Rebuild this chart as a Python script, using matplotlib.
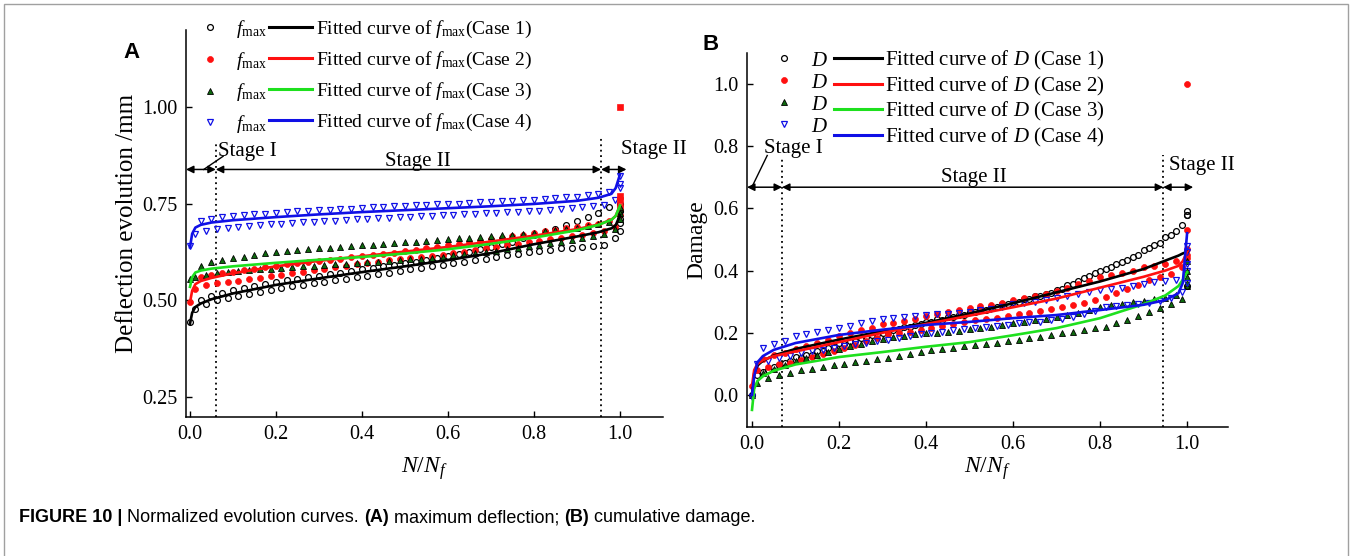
import numpy as np
import matplotlib
matplotlib.use("Agg")
import matplotlib.pyplot as plt
from matplotlib.lines import Line2D
from matplotlib.patches import Rectangle

plt.rcParams['font.family'] = ['Liberation Serif', 'DejaVu Serif']
plt.rcParams['mathtext.fontset'] = 'custom'
plt.rcParams['mathtext.rm'] = 'Liberation Serif'
plt.rcParams['mathtext.it'] = 'Liberation Serif:italic'
plt.rcParams['mathtext.bf'] = 'Liberation Serif:bold'

# ---------------- data ----------------
# measurement grid N/Nf (81 evenly spaced records)
x_pts = np.linspace(0.0, 1.0, 81)
# grid of the fitted curves
x_fit = [0, 0.005, 0.0125, 0.025, 0.05, 0.1, 0.2, 0.3, 0.4, 0.5, 0.6, 0.7, 0.8, 0.9, 0.95, 0.98, 0.99, 1.0]

# Panel A: maximum deflection f_max (mm, normalised)
fA_case1 = [0.445, 0.478, 0.500, 0.490, 0.512, 0.500, 0.520, 0.506, 0.527, 0.512,
            0.533, 0.517, 0.538, 0.522, 0.543, 0.527, 0.548, 0.532, 0.552, 0.536,
            0.556, 0.540, 0.560, 0.544, 0.564, 0.548, 0.568, 0.552, 0.572, 0.556,
            0.576, 0.560, 0.580, 0.564, 0.584, 0.568, 0.588, 0.572, 0.592, 0.576,
            0.596, 0.580, 0.600, 0.584, 0.605, 0.588, 0.610, 0.592, 0.615, 0.596,
            0.620, 0.600, 0.626, 0.604, 0.632, 0.608, 0.638, 0.612, 0.645, 0.616,
            0.652, 0.620, 0.660, 0.624, 0.668, 0.628, 0.676, 0.631, 0.685, 0.634,
            0.694, 0.636, 0.704, 0.638, 0.714, 0.640, 0.726, 0.642, 0.740, 0.660,
            0.700]
fA_case2 = [0.495, 0.530, 0.560, 0.540, 0.566, 0.545, 0.570, 0.548, 0.574, 0.551,
            0.578, 0.555, 0.582, 0.558, 0.586, 0.562, 0.590, 0.566, 0.593, 0.570,
            0.596, 0.574, 0.599, 0.578, 0.602, 0.582, 0.605, 0.586, 0.608, 0.590,
            0.611, 0.593, 0.614, 0.596, 0.617, 0.600, 0.620, 0.603, 0.623, 0.606,
            0.627, 0.609, 0.630, 0.612, 0.634, 0.615, 0.638, 0.618, 0.642, 0.622,
            0.646, 0.626, 0.650, 0.630, 0.654, 0.634, 0.658, 0.638, 0.662, 0.642,
            0.666, 0.646, 0.670, 0.650, 0.674, 0.654, 0.678, 0.658, 0.682, 0.662,
            0.686, 0.666, 0.690, 0.670, 0.694, 0.675, 0.698, 0.680, 0.704, 0.690,
            0.720]
fA_case3 = [0.555, 0.560, 0.590, 0.565, 0.600, 0.570, 0.604, 0.573, 0.610, 0.576,
            0.613, 0.578, 0.618, 0.580, 0.622, 0.582, 0.626, 0.584, 0.628, 0.586,
            0.630, 0.588, 0.632, 0.590, 0.634, 0.592, 0.636, 0.593, 0.638, 0.595,
            0.640, 0.596, 0.642, 0.598, 0.644, 0.600, 0.646, 0.602, 0.648, 0.604,
            0.650, 0.606, 0.652, 0.608, 0.654, 0.610, 0.656, 0.613, 0.658, 0.616,
            0.660, 0.619, 0.662, 0.622, 0.664, 0.625, 0.666, 0.628, 0.668, 0.632,
            0.670, 0.636, 0.672, 0.640, 0.675, 0.644, 0.678, 0.648, 0.681, 0.652,
            0.684, 0.656, 0.688, 0.661, 0.692, 0.666, 0.697, 0.672, 0.703, 0.685,
            0.735]
fA_case4 = [0.640, 0.672, 0.705, 0.678, 0.711, 0.684, 0.714, 0.687, 0.717, 0.690,
            0.720, 0.692, 0.722, 0.694, 0.724, 0.696, 0.726, 0.698, 0.728, 0.700,
            0.730, 0.702, 0.731, 0.703, 0.733, 0.705, 0.734, 0.706, 0.736, 0.708,
            0.737, 0.709, 0.739, 0.710, 0.740, 0.712, 0.741, 0.713, 0.743, 0.715,
            0.744, 0.716, 0.745, 0.717, 0.747, 0.719, 0.748, 0.720, 0.749, 0.721,
            0.750, 0.722, 0.752, 0.724, 0.753, 0.725, 0.754, 0.726, 0.756, 0.728,
            0.757, 0.729, 0.759, 0.731, 0.760, 0.732, 0.762, 0.734, 0.764, 0.736,
            0.766, 0.738, 0.768, 0.740, 0.771, 0.743, 0.775, 0.746, 0.780, 0.760,
            0.800]
# extra records at failure (N/Nf = 1)
fA_end1 = [0.68, 0.71, 0.73, 0.75]
fA_end2 = [0.74, 0.76, 0.77, 1.00]
fA_end3 = [0.71, 0.725, 0.74]
fA_end4 = [0.79, 0.82]

fitA1 = [0.440, 0.468, 0.483, 0.492, 0.503, 0.518, 0.540, 0.557, 0.573, 0.588, 0.604, 0.622, 0.645, 0.665, 0.676, 0.686, 0.694, 0.720]
fitA2 = [0.495, 0.525, 0.542, 0.550, 0.558, 0.570, 0.588, 0.602, 0.614, 0.626, 0.638, 0.652, 0.667, 0.684, 0.696, 0.708, 0.718, 0.745]
fitA3 = [0.535, 0.560, 0.572, 0.577, 0.582, 0.588, 0.597, 0.605, 0.612, 0.621, 0.632, 0.646, 0.662, 0.681, 0.695, 0.708, 0.718, 0.745]
fitA4 = [0.637, 0.672, 0.688, 0.695, 0.701, 0.707, 0.715, 0.722, 0.728, 0.733, 0.738, 0.743, 0.749, 0.757, 0.765, 0.775, 0.790, 0.825]

# Panel B: damage D
dB_case1 = [0.000, 0.065, 0.075, 0.080, 0.090, 0.095, 0.102, 0.108, 0.122, 0.120,
            0.128, 0.130, 0.140, 0.142, 0.150, 0.155, 0.167, 0.165, 0.172, 0.175,
            0.182, 0.185, 0.192, 0.195, 0.200, 0.204, 0.210, 0.212, 0.218, 0.220,
            0.226, 0.229, 0.235, 0.235, 0.243, 0.242, 0.250, 0.250, 0.258, 0.258,
            0.267, 0.266, 0.275, 0.274, 0.283, 0.282, 0.291, 0.291, 0.300, 0.299,
            0.308, 0.308, 0.317, 0.317, 0.326, 0.327, 0.337, 0.342, 0.352, 0.358,
            0.368, 0.375, 0.384, 0.391, 0.400, 0.406, 0.413, 0.420, 0.427, 0.434,
            0.442, 0.450, 0.465, 0.472, 0.482, 0.490, 0.507, 0.515, 0.528, 0.545,
            0.580]
dB_case2 = [0.030, 0.080, 0.115, 0.090, 0.128, 0.098, 0.136, 0.104, 0.148, 0.112,
            0.158, 0.122, 0.168, 0.131, 0.178, 0.140, 0.190, 0.150, 0.199, 0.161,
            0.208, 0.172, 0.216, 0.183, 0.228, 0.195, 0.232, 0.198, 0.238, 0.203,
            0.244, 0.208, 0.255, 0.215, 0.260, 0.221, 0.266, 0.227, 0.272, 0.233,
            0.280, 0.240, 0.285, 0.244, 0.290, 0.249, 0.296, 0.254, 0.305, 0.260,
            0.311, 0.265, 0.318, 0.270, 0.325, 0.276, 0.335, 0.283, 0.345, 0.290,
            0.356, 0.297, 0.367, 0.305, 0.380, 0.315, 0.386, 0.328, 0.392, 0.341,
            0.398, 0.354, 0.410, 0.370, 0.414, 0.380, 0.420, 0.390, 0.430, 0.410,
            0.450]
dB_case3 = [0.000, 0.040, 0.070, 0.055, 0.085, 0.065, 0.095, 0.072, 0.108, 0.080,
            0.118, 0.085, 0.128, 0.090, 0.138, 0.095, 0.148, 0.100, 0.156, 0.105,
            0.164, 0.110, 0.172, 0.115, 0.180, 0.120, 0.186, 0.126, 0.191, 0.132,
            0.195, 0.138, 0.198, 0.144, 0.200, 0.148, 0.203, 0.152, 0.207, 0.156,
            0.211, 0.160, 0.215, 0.164, 0.219, 0.168, 0.224, 0.172, 0.230, 0.177,
            0.235, 0.182, 0.240, 0.187, 0.245, 0.193, 0.250, 0.199, 0.257, 0.204,
            0.265, 0.209, 0.274, 0.214, 0.284, 0.220, 0.290, 0.230, 0.294, 0.242,
            0.298, 0.255, 0.303, 0.268, 0.308, 0.280, 0.313, 0.292, 0.320, 0.310,
            0.350]
dB_case4 = [-0.005, 0.100, 0.150, 0.110, 0.165, 0.120, 0.175, 0.126, 0.190, 0.134,
            0.196, 0.140, 0.202, 0.146, 0.208, 0.152, 0.216, 0.158, 0.223, 0.163,
            0.230, 0.168, 0.237, 0.172, 0.245, 0.177, 0.248, 0.183, 0.251, 0.189,
            0.254, 0.195, 0.257, 0.200, 0.259, 0.204, 0.261, 0.208, 0.263, 0.212,
            0.267, 0.215, 0.272, 0.218, 0.277, 0.221, 0.283, 0.224, 0.292, 0.230,
            0.296, 0.233, 0.300, 0.236, 0.305, 0.240, 0.313, 0.245, 0.318, 0.252,
            0.324, 0.260, 0.330, 0.270, 0.336, 0.282, 0.340, 0.285, 0.345, 0.288,
            0.350, 0.291, 0.358, 0.295, 0.362, 0.302, 0.366, 0.312, 0.370, 0.330,
            0.400]
dB_end1 = [0.35, 0.58, 0.59]
dB_end2 = [0.44, 0.47, 0.53, 1.00]
dB_end3 = [0.36, 0.38, 0.40, 0.43]
dB_end4 = [0.36, 0.42, 0.46, 0.48]

fitB1 = [0.000, 0.070, 0.095, 0.110, 0.127, 0.148, 0.178, 0.205, 0.232, 0.262, 0.295, 0.330, 0.365, 0.405, 0.432, 0.448, 0.455, 0.460]
fitB2 = [0.030, 0.080, 0.100, 0.112, 0.125, 0.140, 0.170, 0.200, 0.228, 0.255, 0.282, 0.310, 0.345, 0.380, 0.400, 0.415, 0.430, 0.460]
fitB3 = [-0.048, 0.020, 0.045, 0.060, 0.078, 0.098, 0.122, 0.138, 0.155, 0.170, 0.192, 0.215, 0.247, 0.292, 0.320, 0.350, 0.370, 0.395]
fitB4 = [0.000, 0.060, 0.105, 0.125, 0.145, 0.167, 0.193, 0.210, 0.225, 0.235, 0.247, 0.257, 0.273, 0.290, 0.305, 0.327, 0.360, 0.520]

# stage boundaries (N/Nf)
stageA_bounds = [0.06, 0.956]
stageB_bounds = [0.069, 0.945]
xticks = [0.0, 0.2, 0.4, 0.6, 0.8, 1.0]
xtick_labels = ['0.0', '0.2', '0.4', '0.6', '0.8', '1.0']
yticksA = [0.25, 0.50, 0.75, 1.00]
yticksA_labels = ['0.25', '0.50', '0.75', '1.00']
yticksB = [0.0, 0.2, 0.4, 0.6, 0.8, 1.0]
yticksB_labels = ['0.0', '0.2', '0.4', '0.6', '0.8', '1.0']

# ---------------- style ----------------
C_BLACK, C_RED, C_GREEN, C_BLUE = 'black', '#ff1010', '#1ee01e', '#1010e6'
mk = [
    dict(marker='o', mfc='none', mec='black', ms=4.2, mew=0.9, ls='none'),
    dict(marker='o', mfc=C_RED, mec=C_RED, ms=4.3, mew=0.5, ls='none'),
    dict(marker='^', mfc='#0e6a0e', mec='black', ms=4.6, mew=0.6, ls='none'),
    dict(marker='v', mfc='none', mec=C_BLUE, ms=4.8, mew=0.9, ls='none'),
]
line_cols = [C_BLACK, C_RED, C_GREEN, C_BLUE]

W, H = 1351, 556
fig = plt.figure(figsize=(W / 100, H / 100), dpi=100)

axA = fig.add_axes([186 / W, 1 - 417 / H, (663 - 186) / W, (417 - 30) / H])
axB = fig.add_axes([747 / W, 1 - 427 / H, (1228 - 747) / W, (427 - 53) / H])


def style_axes(ax):
    for s in ['top', 'right']:
        ax.spines[s].set_visible(False)
    for s in ['left', 'bottom']:
        ax.spines[s].set_linewidth(1.1)
    ax.tick_params(direction='in', length=4.5, width=1.0, labelsize=14.5, pad=6)
    ax.set_xticks(xticks)
    ax.set_xticklabels(xtick_labels)


def draw_panel(ax, series, ends, fits, end_markers):
    for vals, m in zip(series, mk):
        ax.plot(x_pts, vals, zorder=3, clip_on=False, **m)
    for vals, m, em in zip(ends, mk, end_markers):
        mm = dict(m)
        if em is not None:
            mm['marker'] = em
        ax.plot([1.0] * len(vals), vals, zorder=3, clip_on=False, **mm)
    for vals, c in zip(fits, line_cols):
        ax.plot(x_fit, vals, color=c, lw=1.9, zorder=4, clip_on=False)


style_axes(axA)
style_axes(axB)

draw_panel(axA, [fA_case1, fA_case2, fA_case3, fA_case4],
           [fA_end1, fA_end2, fA_end3, fA_end4],
           [fitA1, fitA2, fitA3, fitA4], [None, 's', None, None])
draw_panel(axB, [dB_case1, dB_case2, dB_case3, dB_case4],
           [dB_end1, dB_end2, dB_end3, dB_end4],
           [fitB1, fitB2, fitB3, fitB4], [None, None, None, None])

axA.set_xlim(-0.0093, 1.100)
axA.set_ylim(0.199, 1.198)
axA.set_yticks(yticksA)
axA.set_yticklabels(yticksA_labels)
axB.set_xlim(-0.0115, 1.094)
axB.set_ylim(-0.103, 1.0995)
axB.set_yticks(yticksB)
axB.set_yticklabels(yticksB_labels)

# axis labels
axA.set_ylabel('Deflection evolution /mm', fontsize=18)
axA.yaxis.set_label_coords((127 - 186) / 477, 0.5)
axA.yaxis.label.set_va('center')
axB.set_ylabel('Damage', fontsize=17)
axB.yaxis.set_label_coords((697 - 747) / 481, 0.5)
axB.yaxis.label.set_va('center')
axA.set_xlabel('$N/N_f$', fontsize=17)
axA.xaxis.set_label_coords(0.5, (417 - 469) / 387)
axA.xaxis.label.set_va('center')
axB.set_xlabel('$N/N_f$', fontsize=17)
axB.xaxis.set_label_coords(0.5, (427 - 469) / 374)
axB.xaxis.label.set_va('center')


# stage annotations
def arrow(ax, x0, x1, y):
    ax.annotate('', xy=(x1, y), xytext=(x0, y),
                arrowprops=dict(arrowstyle='<|-|>', color='black', lw=1.1,
                                shrinkA=0, shrinkB=0, mutation_scale=11),
                annotation_clip=False)


def stages(ax, xl, bounds, xr, y, dot_tops, lead, t1, t2, t3):
    b0, b1 = bounds
    yb = ax.get_ylim()[0]
    ax.plot([b0, b0], [yb, dot_tops[0]], ls=(0, (1, 2)), color='black', lw=1.3, clip_on=False)
    ax.plot([b1, b1], [yb, dot_tops[1]], ls=(0, (1, 2)), color='black', lw=1.3, clip_on=False)
    arrow(ax, xl, b0, y)
    arrow(ax, b0, b1, y)
    arrow(ax, b1, xr, y)
    ax.plot(lead[0], lead[1], color='black', lw=1.0, clip_on=False)
    ax.text(t1[0], t1[1], 'Stage I', fontsize=15, ha='left', va='center')
    ax.text(t2[0], t2[1], 'Stage II', fontsize=15, ha='center', va='center')
    ax.text(t3[0], t3[1], 'Stage II', fontsize=15, ha='left', va='center', clip_on=False)


stages(axA, -0.0093, stageA_bounds, 1.015, 0.838, (0.91, 0.92),
       ([0.032, 0.077], [0.838, 0.872]), (0.065, 0.884), (0.53, 0.858), (1.002, 0.89))
stages(axB, -0.0115, stageB_bounds, 1.014, 0.668, (0.76, 0.77),
       ([0.002, 0.035], [0.675, 0.77]), (0.028, 0.793), (0.51, 0.70), (0.959, 0.738))


# legends
def proxies(label_sym, label_fit):
    hs, ls = [], []
    for m in mk:
        hs.append(Line2D([], [], **m))
        ls.append(label_sym)
    for i, c in enumerate(line_cols):
        hs.append(Line2D([], [], color=c, lw=2.2))
        ls.append(label_fit.replace('#', str(i + 1)))
    return hs, ls


hA, lA = proxies(r'$f_{\mathrm{max}}$', r'Fitted curve of $f_{\mathrm{max}}$(Case #)')
legA = fig.legend(hA, lA, loc='upper left', bbox_to_anchor=(189 / W, 1 - 18 / H),
                  ncol=2, frameon=False, fontsize=14, handlelength=2.2, handletextpad=0.2,
                  columnspacing=0.15, labelspacing=0.5, borderpad=0, borderaxespad=0)
hB, lB = proxies(r'$D$', r'Fitted curve of $D$ (Case #)')
legB = fig.legend(hB, lB, loc='upper left', bbox_to_anchor=(760 / W, 1 - 49 / H),
                  ncol=2, frameon=False, fontsize=15, handlelength=2.3, handletextpad=0.15,
                  columnspacing=0.3, labelspacing=0.12, borderpad=0, borderaxespad=0)

# panel letters
fig.text(132 / W, 1 - 52 / H, 'A', fontsize=16, fontweight='bold', family='Liberation Sans',
         ha='center', va='center')
fig.text(711 / W, 1 - 45 / H, 'B', fontsize=16, fontweight='bold', family='Liberation Sans',
         ha='center', va='center')

# frame around the figure
fig.patches.append(Rectangle((3.5 / W, -0.02), (1348 - 3.5) / W, 1.02 - 3.5 / H,
                             transform=fig.transFigure, fill=False, ec='#a0a0a0', lw=1.0))

# caption
pieces = [('FIGURE 10 | ', 'bold'), ('Normalized evolution curves. ', 'normal'),
          ('(A)', 'bold'), (' maximum deflection; ', 'normal'),
          ('(B)', 'bold'), (' cumulative damage.', 'normal')]
renderer = fig.canvas.get_renderer()
xc = 19
for txt, wgt in pieces:
    t = fig.text(xc / W, 1 - 518 / H, txt, fontsize=13, fontweight=wgt,
                 family='Liberation Sans', ha='left', va='center')
    bb = t.get_window_extent(renderer)
    xc = bb.x1

fig.savefig('out.png', dpi=100)
